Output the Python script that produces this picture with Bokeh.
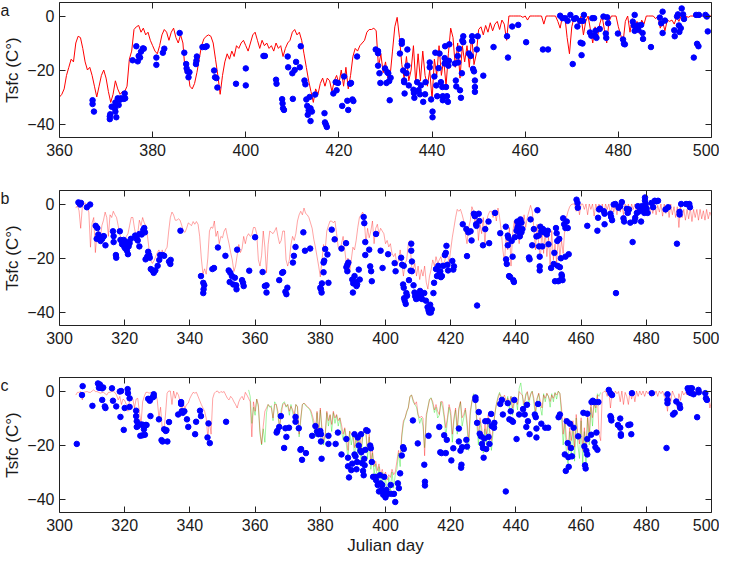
import numpy as np
from bokeh.plotting import figure
from bokeh.layouts import column, row
from bokeh.models import Range1d, LinearAxis, FixedTicker
from bokeh.core.properties import value
from bokeh.embed import file_html
from bokeh.resources import INLINE

FONT = "Liberation Sans"

# ---- panel a : modelled Tsfc (red, every half day from day 360) and observed (blue)
a_line_start = 360
a_line_temp = [
    -30, -29, -27, -22, -19, -16, -17, -10, -7.5, -8,
    -12, -17, -20, -19, -22, -26, -30, -26, -22, -20,
    -23, -28, -32, -29, -24, -27, -29, -28, -28, -26,
    -16, -13, -5, -4, -3.5, -6, -4.5, -7, -6, -9,
    -11, -13, -14, -11, -7, -5, -6, -9, -6, -4.5,
    -8, -10, -7, -10, -21, -19, -26, -27, -25, -21,
    -16, -11, -8.5, -7.5, -7, -7.5, -10, -16, -22, -29,
    -22, -17, -14, -16, -13, -15, -11, -12, -10, -9,
    -11, -13, -10, -7, -6, -9, -12, -9, -11, -10,
    -12, -11, -13, -10, -12, -11, -15, -12, -10, -9,
    -6, -5, -7, -6, -9, -14, -19, -24, -28, -32,
    -27, -29, -25, -23, -26, -23, -24, -28, -24, -22,
    -25, -20, -26, -19, -27, -22, -15, -12, -13, -11,
    -10, -9, -6, -5, -5, -4.5, -5.5, -19, -14, -21,
    -17, -23, -22, -13, -4, -0.5, -8, -18, -23, -15,
    -24, -20, -11, -25, -14, -24, -13, -22, -26, -20,
    -31, -16, -22, -11, -22, -16, -26, -14, -4.5, -8,
    -19, -10, -23, -11, -17, -11, -19, -7, -18, -14,
    -5, -4, -7, -3.5, -6, -2.5, -5.5, -3, -2, -5,
    -1.5, -3, -9, 0, 0, 0, 0, 0, 0, -0.5,
    0, -1.5, 0, 0, 0, 0, 0, 0, -3, 0,
    0, 0, 0, 0, -2, -4.5, 0, 0, -8, -14,
    -4, -0.5, 0, -3, 0, -7, -2, 0, -5, -10,
    -4, -8, -3, 0, -5, -10, -2, 0, 0, 0,
    -4, -7, -10, -2, 0, -6, -1, -5, -2, -6.5,
    -1.5, -3, 0, 0, 0, 0, -1, 0, -4.5, -2,
    -5.5, -1.5, -2, -1.5, -3, -0.5, -2, 0, -0.5, 0,
    -0.5, 0, 0, 0, 0, 0, 0, 0, 0, 0,
    0,
]
a_dot_day = [
    367.1, 367.1, 367.4, 370.8, 370.8, 370.9, 371.2, 371.7, 372.0, 372.0,
    372.2, 371.9, 372.5, 372.7, 373.0, 373.2, 373.8, 374.0, 374.1, 375.7,
    376.5, 376.8, 377.0, 377.3, 377.5, 377.9, 378.1, 380.8, 380.8, 382.2,
    382.5, 385.8, 386.8, 387.2, 387.3, 387.5, 387.7, 387.9, 389.3, 389.4,
    389.5, 390.7, 391.3, 391.6, 393.2, 393.4, 393.7, 393.9, 397.9, 400.0,
    400.0, 403.8, 404.1, 406.5, 406.6, 407.8, 407.9, 408.0, 408.2, 409.0,
    409.1, 410.0, 410.1, 410.5, 410.8, 411.6, 411.8, 412.6, 412.8, 413.0,
    413.2, 413.3, 413.5, 413.7, 413.9, 413.9, 414.2, 414.9, 416.9, 417.0,
    417.2, 417.4, 418.8, 419.3, 419.5, 419.8, 421.1, 420.7, 421.8, 422.0,
    422.4, 422.6, 422.9, 423.1, 423.9, 427.9, 428.4, 428.4, 428.4, 428.7,
    428.9, 429.9, 430.2, 430.4, 430.6, 430.8, 430.9, 431.1, 433.1, 433.5,
    433.5, 433.8, 434.0, 434.0, 434.1, 434.5, 434.7, 434.7, 435.0, 436.0,
    436.1, 436.2, 436.8, 437.1, 437.4, 437.6, 438.1, 438.5, 438.6, 439.5,
    439.5, 439.8, 440.1, 440.1, 440.5, 440.7, 440.9, 441.1, 441.4, 441.6,
    441.9, 442.2, 442.3, 442.3, 442.7, 442.7, 442.8, 443.0, 443.2, 443.4,
    443.5, 443.6, 443.7, 444.9, 445.1, 445.2, 445.5, 445.6, 445.8, 446.0,
    446.2, 446.4, 446.5, 446.7, 446.7, 447.9, 448.3, 448.6, 448.6, 448.8,
    449.0, 449.2, 449.2, 449.2, 449.6, 449.8, 451.0, 453.2, 456.1, 456.3,
    457.2, 458.5, 460.2, 463.8, 464.9, 467.5, 468.0, 468.6, 469.1, 469.7,
    470.2, 470.5, 470.9, 471.2, 471.8, 471.9, 472.1, 472.3, 472.4, 472.6,
    473.9, 474.2, 474.4, 474.8, 475.0, 475.1, 475.3, 476.0, 476.8, 477.3,
    477.4, 477.6, 477.8, 479.9, 481.0, 481.2, 481.4, 483.1, 483.3, 483.5,
    483.5, 484.2, 484.3, 484.9, 485.2, 485.3, 487.0, 488.9, 489.2, 489.5,
    489.5, 490.0, 492.0, 492.1, 492.6, 492.8, 493.0, 493.1, 493.4, 493.6,
    493.9, 494.1, 496.2, 496.7, 496.9, 497.2, 497.3, 498.7, 499.0, 499.2,
]
a_dot_temp = [
    -31.2, -32.6, -35.4, -37.2, -38.2, -36.4, -33.6, -33.8, -32.0, -35.4,
    -37.5, -34.2, -30.5, -33.0, -31.0, -30.5, -30.7, -28.7, -30.5, -16.4,
    -11.2, -16.8, -14.8, -15.4, -13.2, -12.0, -12.1, -15.4, -18.1, -13.6,
    -12.1, -6.3, -13.6, -17.8, -19.4, -20.6, -22.7, -20.8, -17.8, -16.6,
    -15.0, -11.5, -11.5, -11.2, -20.2, -22.7, -23.0, -26.5, -25.1, -25.7,
    -19.4, -14.8, -14.8, -23.6, -25.1, -30.8, -32.4, -34.2, -34.8, -15.0,
    -19.0, -21.2, -30.7, -20.0, -17.0, -19.0, -11.2, -23.9, -25.3, -30.9,
    -33.3, -36.6, -35.0, -30.0, -34.2, -38.9, -35.4, -29.1, -36.0, -39.4,
    -40.2, -41.1, -28.7, -24.5, -27.5, -24.8, -22.4, -33.3, -31.4, -34.8,
    -25.1, -24.8, -30.9, -31.5, -15.0, -12.4, -13.0, -13.8, -18.4, -21.2,
    -24.8, -19.4, -24.8, -20.8, -21.2, -24.1, -31.2, -22.9, -13.9, -9.3,
    -10.3, -20.2, -23.9, -24.5, -28.7, -21.2, -18.4, -12.4, -25.7, -27.3,
    -28.5, -30.3, -24.5, -27.5, -29.0, -25.7, -31.8, -29.0, -24.5, -17.2,
    -19.0, -30.9, -35.4, -37.5, -22.4, -13.6, -25.7, -29.7, -19.3, -13.9,
    -24.5, -26.3, -29.7, -31.2, -15.6, -17.6, -11.2, -26.3, -29.7, -31.8,
    -18.4, -16.6, -10.5, -17.6, -23.9, -26.1, -14.8, -17.2, -12.1, -27.5,
    -30.3, -21.2, -9.1, -9.7, -7.5, -13.9, -14.8, -7.5, -9.3, -19.6,
    -20.5, -23.9, -26.3, -28.1, -12.4, -7.5, -22.1, -11.5, -7.5, -15.4,
    -3.9, -3.3, -9.7, -12.4, -12.4, 0.1, -0.8, -0.8, -1.8, 0.4,
    -17.8, -1.1, -0.8, -3.9, -1.8, -9.9, -14.5, -10.2, -1.8, 0.4,
    -6.1, -7.3, -0.8, -0.8, -7.3, -5.5, -8.1, -4.8, -0.2, -6.5,
    -8.1, -0.5, -2.7, -6.5, -8.7, -10.3, -10.5, -2.1, -3.5, 0.4,
    -5.5, -3.5, -5.1, -3.3, -6.3, -8.5, -11.5, -0.6, -2.7, -6.3,
    1.6, -1.7, -5.3, -7.5, -0.2, 0.6, -3.5, -5.9, -4.5, 2.8,
    0.6, -1.1, -15.4, 0.4, -10.3, -11.2, 0.4, 0.4, -0.2, -5.7,
]

# ---- panel b
b_line_start = 305
b_line_temp = [
    -1.5, -0.5, -2.5, -9, -1, 0, 0.4, -1, -3, -16,
    -7, -5, -18, -11, -10, -13, -8, -6, -3, -5,
    -12, -4, -5, -2.7, -4, -5, -8, -11, -14, -13,
    -14, -12, -11, -8, -5, -5, -9, -12, -11, -6,
    -8, -5, -7, -8, -12, -17, -21, -22, -21, -19.5,
    -18, -17, -19, -17, -19, -17, -16, -10, -5, -3,
    -4, -6, -6, -5.5, -6, -8, -10, -10.5, -9, -7,
    -7.5, -8, -6.5, -7.5, -6.5, -7.5, -12, -20, -26, -24,
    -26, -20, -10, -8.5, -9, -6.3, -12, -10, -14.7, -12,
    -12.5, -10, -9, -12, -14.7, -18, -20.7, -25, -23, -19,
    -15, -18, -16.5, -12, -14.7, -12, -11, -12, -11.5, -8.7,
    -8.7, -11, -20.7, -23, -19, -10, -16, -25.5, -15, -10,
    -10.5, -11, -10, -8.7, -12, -14.7, -13.5, -10, -10, -20.7,
    -23, -20.7, -15, -12, -13.5, -11, -6.3, -4, -2.7, -4,
    -1.5, -3.5, -4, -5, -7, -9, -13, -16, -19.5, -23,
    -27, -21, -15, -17, -10, -8, -6.3, -6.3, -7, -6.3,
    -11, -16, -17, -14.7, -12, -17, -22, -20, -25.5, -20.7,
    -16, -17, -13.5, -8.7, -5, -4, -3, -6, -14.7, -9,
    -12.5, -10, -6.3, -14.7, -9, -7.5, -11, -9, -10, -11,
    -14.7, -13.5, -15.9, -14.7, -18.3, -19.5, -18.3, -23, -20.7, -17,
    -22, -26.7, -22, -20.7, -14.7, -13.5, -23, -24.3, -22, -26.7,
    -23, -28, -24.3, -26.7, -23, -29, -31.5, -26.7, -24.3, -20.7,
    -23, -19.5, -22, -20.7, -19.5, -23, -22, -19.5, -18.3, -22,
    -17, -12.3, -8.7, -5, -2, -2.7, -2, -3.9, -6.3, -11,
    -14.7, -8.7, -6.3, -1, -2.7, -7.5, -2.7, -13.5, -7.5, -11,
    -5, -14.7, -6.3, -4, -2.7, -2.7, -5, -2.7, -6.3, -1.5,
    -5, -9.9, -17, -21.9, -11, -17, -8.7, -23, -11, -6.3,
    -12.3, -7.5, -14.7, -5, -12.3, -4, -8.7, -5, -2.7, -0.5,
    -2.7, -8.7, -17, -7.5, -14.7, -20.7, -8.7, -18.3, -10, -19.5,
    -12.3, -23, -9.9, -20.7, -14.7, -22, -12.3, -19.5, -13.5, -18.3,
    -8.7, -5, -2.7, -1, -0.2, 0, 0, -2.7, 0, -4,
    0, 0, -2, 0, -4, 0, -2, 0, -4.5, 0,
    -2, 0, -3, 0, -4, 0, -2, 0, -4, 0,
    -3, 0, -4, 0, -3, 0, -4, 0, -3, 0,
    -4, 0, -2, 0, -3.5, 0, -2.5, 0, -4, 0,
    -3, 0, -4, -0.5, -3.5, 0, -4, -0.5, -3, 0,
    -4.5, 0, -3.5, -0.5, -5, 0, -4, -1, -5, -1,
    -8.7, -1, -5, -2, -6, -2, -5.5, -1.5, -6.5, -2,
    -5, -2, -6, -2, -5.5, -2.5, -6, -2, -5.5, -3,
    -4.5,
]
b_dot_day = [
    305.8, 306.3, 306.6, 308.4, 309.4, 311.1, 311.6, 311.4, 311.9, 312.1,
    312.6, 313.1, 313.4, 313.6, 314.1, 316.4, 316.6, 316.6, 317.3, 317.4,
    318.5, 318.7, 319.2, 319.7, 319.9, 320.2, 320.5, 320.7, 321.0, 321.2,
    321.5, 321.9, 323.2, 323.7, 324.0, 324.5, 324.5, 325.2, 325.7, 326.0,
    326.2, 326.4, 326.9, 327.2, 327.5, 327.7, 328.0, 328.5, 328.9, 329.4,
    330.1, 330.6, 330.9, 331.6, 332.1, 333.6, 334.0, 334.1, 337.1, 343.4,
    344.1, 344.2, 344.1, 344.4, 346.9, 347.4, 348.6, 350.9, 351.9, 352.2,
    352.4, 352.9, 353.3, 353.8, 354.2, 354.3, 354.5, 356.0, 356.3, 356.5,
    358.2, 360.0, 362.3, 363.0, 363.5, 363.5, 367.4, 368.3, 368.6, 369.3,
    369.6, 369.9, 371.6, 371.9, 372.4, 374.8, 375.3, 376.9, 380.0, 380.2,
    380.4, 380.5, 381.0, 381.0, 381.2, 381.5, 382.2, 382.5, 383.5, 384.4,
    386.5, 387.9, 388.0, 388.3, 388.3, 388.6, 389.8, 390.0, 390.1, 390.5,
    390.8, 391.1, 391.3, 391.8, 392.1, 393.3, 393.5, 393.8, 393.8, 395.0,
    395.3, 395.6, 395.8, 397.1, 398.5, 399.1, 400.8, 402.8, 403.1, 404.8,
    405.1, 405.6, 405.4, 405.6, 405.7, 405.9, 406.2, 406.4, 406.6, 407.2,
    407.7, 407.9, 407.9, 408.1, 408.1, 408.6, 408.9, 409.1, 409.4, 409.7,
    410.1, 410.6, 410.9, 411.2, 411.9, 412.4, 412.9, 413.2, 413.4, 413.7,
    413.9, 414.2, 414.7, 414.9, 415.5, 415.8, 416.2, 416.5, 416.8, 417.0,
    417.3, 417.7, 418.2, 418.5, 418.7, 419.0, 419.2, 420.5, 420.8, 421.0,
    423.7, 424.8, 425.0, 425.4, 426.1, 426.4, 427.1, 427.4, 427.8, 427.9,
    428.1, 428.6, 428.8, 429.9, 430.6, 431.6, 431.8, 433.6, 435.2, 436.9,
    437.0, 437.2, 437.5, 437.5, 437.7, 437.9, 438.2, 438.7, 439.0, 439.2,
    439.4, 439.7, 440.2, 440.4, 440.5, 440.7, 441.0, 441.2, 441.4, 441.7,
    441.7, 442.0, 444.0, 444.2, 444.5, 445.0, 445.5, 446.3, 446.6, 447.0,
    447.1, 447.3, 447.3, 447.3, 447.5, 447.8, 448.1, 448.3, 448.6, 449.1,
    449.5, 449.8, 450.0, 450.8, 451.6, 451.8, 452.0, 452.3, 452.5, 452.7,
    452.8, 453.0, 453.3, 453.5, 453.6, 453.8, 454.0, 454.1, 454.3, 454.5,
    454.8, 455.2, 455.2, 455.6, 455.9, 456.2, 458.6, 458.9, 459.0, 461.9,
    465.0, 465.2, 465.5, 465.8, 467.0, 467.2, 467.2, 469.0, 469.2, 469.5,
    470.0, 470.5, 470.7, 471.5, 472.0, 472.5, 473.0, 473.2, 474.0, 474.3,
    474.7, 475.1, 475.8, 476.4, 476.6, 477.1, 477.4, 477.9, 478.4, 478.6,
    479.1, 479.4, 479.6, 479.6, 479.8, 480.1, 480.4, 481.6, 482.1, 482.6,
    483.1, 483.6, 485.9, 486.7, 489.4, 490.2, 490.2, 490.7, 492.2, 493.2,
    493.4, 492.9,
]
b_dot_temp = [
    0.6, -0.2, 0.4, -1.2, -0.2, -8.1, -8.9, -12.9, -11.3, -12.9,
    -13.7, -12.9, -12.0, -11.9, -15.3, -10.1, -11.9, -14.1, -18.9, -19.9,
    -10.1, -13.3, -14.9, -13.3, -15.9, -16.5, -14.1, -17.3, -18.6, -15.7,
    -14.5, -12.9, -11.7, -12.9, -13.5, -15.7, -11.1, -11.3, -9.6, -8.9,
    -10.5, -20.5, -19.5, -17.7, -18.9, -19.9, -24.1, -24.6, -25.5, -24.6,
    -22.9, -20.7, -18.9, -18.9, -19.2, -21.3, -22.2, -20.7, -9.9, -26.7,
    -29.2, -31.6, -33.0, -30.1, -24.1, -23.7, -16.1, -19.2, -24.6, -28.9,
    -25.5, -26.7, -29.8, -27.3, -30.1, -31.6, -16.9, -28.2, -29.2, -30.4,
    -24.7, -12.3, -25.2, -30.4, -30.1, -32.8, -28.2, -25.5, -25.2, -32.5,
    -33.4, -31.0, -21.7, -19.2, -15.9, -10.5, -17.3, -16.5, -31.0, -31.6,
    -32.8, -29.4, -25.3, -21.7, -21.0, -16.7, -18.7, -29.2, -9.5, -13.1,
    -16.5, -14.5, -23.4, -22.5, -24.9, -21.7, -28.0, -32.8, -29.4, -26.7,
    -28.9, -30.4, -29.8, -24.3, -28.0, -4.8, -7.1, -14.1, -18.9, -16.9,
    -23.1, -24.9, -28.6, -11.1, -17.3, -23.7, -18.6, -21.9, -24.9, -19.9,
    -22.5, -22.9, -29.8, -31.0, -34.9, -35.8, -37.0, -33.0, -34.0, -28.2,
    -24.7, -14.7, -17.3, -24.9, -21.3, -30.1, -32.8, -34.2, -35.2, -33.4,
    -34.9, -32.2, -34.0, -35.2, -33.0, -35.8, -38.2, -39.4, -40.2, -37.3,
    -40.2, -39.0, -33.0, -29.2, -24.1, -26.7, -22.9, -25.9, -24.9, -27.1,
    -26.7, -22.9, -18.9, -18.1, -15.5, -22.5, -24.6, -21.1, -24.3, -23.1,
    -7.5, -9.3, -19.3, -10.5, -10.1, -13.5, -3.6, -4.5, -7.5, -8.1,
    -37.6, -3.6, -6.3, -15.3, -9.3, -6.5, -14.5, -3.3, -10.8, -8.4,
    -20.5, -22.2, -11.7, -15.3, -12.5, -26.7, -27.0, -13.7, -19.5, -28.2,
    -28.9, -12.3, -9.9, -6.5, -8.7, -8.1, -10.5, -12.0, -5.7, -6.9,
    -10.5, -9.3, -19.8, -20.5, -5.7, -15.3, -9.3, -12.0, -2.3, -11.7,
    -15.7, -19.5, -23.1, -24.6, -8.4, -10.1, -15.7, -9.3, -10.5, -10.5,
    -11.3, -9.9, -14.9, -23.7, -22.2, -18.1, -28.6, -8.9, -10.8, -13.7,
    -22.9, -28.6, -12.9, -23.4, -28.2, -20.1, -26.1, -26.7, -28.2, -5.3,
    -7.5, -8.9, -19.5, -6.5, -8.9, -18.6, 1.6, 0.4, -1.4, -8.1,
    -9.9, -5.1, -2.0, -1.7, -2.7, -3.6, -7.5, -3.6, -4.8, -6.0,
    -0.2, 0.0, -33.0, -1.4, -0.8, 0.7, -5.3, -6.5, -1.8, -3.3,
    -2.0, -6.9, -14.1, -6.3, -5.1, -3.3, -0.8, -2.7, -6.5, -0.8,
    -2.0, -3.3, 2.4, 1.2, 0.0, -1.7, -3.3, 0.4, -1.2, 1.2,
    1.0, 1.2, -2.0, -1.2, -14.7, -2.9, -3.9, 0.0, 0.0, 0.0,
    -1.2, -0.2,
]

# ---- panel c : two model runs (red from day 305, green from day 358) and observed
c_red_start = 305
c_red_temp = [
    -1.5, -0.5, -0.5, -0.2, -3.3, -0.5, -0.3, -0.2, -0.5, -0.5,
    0, 0.4, -0.2, -0.2, -0.5, -0.8, -0.6, -0.5, -1, -1.5,
    -0.5, -0.5, -0.2, -0.2, -0.5, -1.5, -3.3, -2, -5, -3,
    -3.5, -5, -7.5, -3, -2, -3, -6.3, -3, -2.7, -7.5,
    -12.4, -4, -2, -0.5, -0.5, -0.8, -0.5, -1.5, -0.5, -0.5,
    -3.5, -9.9, -6, -13.6, -14.8, -9, -0.8, 0, 0, -5,
    0, -2.7, -0.5, -1.5, -4, -7.5, -5, -6.3, -5, -4.5,
    -2.7, -1.5, -0.5, -0.8, -0.5, -2, -3.5, -5, -6.3, -7.5,
    -10, -17.2, -11, -16, -2.7, -0.8, -0.2, 0, -0.8, -0.2,
    -0.5, -0.2, -1.5, -2.7, -3.3, -2, -2.7, -4, -5, -6.3,
    -4, -2.7, -2, -3.3, -0.5, -1.5, -2.7, -4, -17, -4,
    -7.5, -3, -5, -14.8, -19.6, -13, -7.5, -6.3, -5, -5.7,
    -6.3, -10, -5, -5, -7.5, -13.6, -8.7, -5, -4.5, -5.7,
    -5, -7.5, -5.7, -6.9, -8.7, -5, -5.7, -16, -10, -5,
    -4.5, -5, -5.7, -6.3, -6.9, -8.7, -11, -14.8, -7.5, -14.8,
    -6.3, -13.6, -18.7, -16, -7.5, -11, -8.7, -12.4, -7.5, -10,
    -8.7, -11, -9.9, -12.4, -16, -13.6, -17.2, -22, -14.8, -16,
    -15.4, -21, -16, -19.6, -15.4, -22, -16, -13.6, -15, -22,
    -16, -26, -22, -28, -26, -29.5, -27, -31, -29, -32,
    -30, -33, -31, -32, -29, -31, -30, -26, -22, -25,
    -16, -11, -10, -7.5, -6.3, -2, -1.5, -3.3, -5, -4,
    -8.7, -10, -9.3, -10, -24, -8.7, -6.3, -3.3, -2.7, -4,
    -7, -5, -7.5, -8.7, -3.9, -4, -8.7, -13.6, -9.9, -5,
    -7.5, -16, -9.9, -6.3, -13.6, -6.3, -3.9, -9.9, -8.7, -6.3,
    -11, -18.4, -7.5, -3.9, -1.5, -2, -9.9, -16, -9.9, -13.6,
    -19.6, -12.4, -16, -8.7, -14.8, -18.4, -13.6, -8.7, -5, -2.7,
    -1, -2, -2.7, -1.5, -3.9, -2.7, -5, -2, -6.3, -3.9,
    -2.7, -5, -0.2, -1, -1.5, -5, -2, -0.2, -3.3, -1.5,
    -0.2, -2.7, -7.5, -2.7, -0.8, -3.9, -6.3, -1.5, -2.7, -0.8,
    -2, -3.9, -1.5, -2.7, -0.8, -1.5, -0.2, -0.8, -6.3, -16,
    -9.9, -17.2, -22, -13.6, -18.4, -11, -20.8, -8.7, -16, -19.6,
    -9.9, -22, -13.6, -20.8, -8.7, -16, -5, -9.9, -3.9, -6.3,
    -1.5, -16, -18.4, -0.8, -0.2, 0, -2, 0, -6.3, -0.5,
    -2, 0, -1, -0.2, -4, 0, -5, -0.5, -2, -5,
    0, -3, -0.5, -4, 0, -2, 0, -1.5, 0, -2,
    0, -1, 0, -2, 0, -1.5, 0, -2, 0, -1,
    0, -2, -3, -7.5, -1, -4, 0, -1.5, -3, -6.3,
    -1, -3.5, 0, -1.5, -0.5, -1.5, 0, -1, 0, -0.5,
    0, -1.5, 0, -0.5, 0, -1, 0, -0.5, -2, -6.3,
    -4,
]
c_green_start = 358
c_green_temp = [
    0.4, -2, -12, -6, -9, -3, -6, -16, -20, -14,
    -19, -8, -5, -6, -5.5, -11, -4, -5, -9, -14,
    -7, -4.5, -4, -6, -5, -9, -5, -8, -10, -5,
    -6, -17, -11, -5, -4.5, -5.5, -6, -6.5, -7.5, -10,
    -13, -17, -8, -17, -7, -15, -20, -17, -8, -13,
    -9, -15, -8, -12, -9, -13, -10, -15, -18, -14,
    -20, -25, -15, -20, -16, -25, -17, -23, -16, -27,
    -17, -15, -16, -25, -17, -29, -23, -31, -27, -33,
    -28, -35, -30, -38, -31, -40, -32, -37, -30, -36,
    -31, -29, -23, -28, -17, -12, -10, -8, -6, -2,
    -1.5, -4, -5, -6, -9, -12, -10, -13, -21, -10,
    -6, -3, -2.5, -5, -8, -6, -10, -9, -4, -6,
    -10, -17, -11, -6, -9, -19, -11, -7, -16, -7,
    -4, -13, -10, -7, -13, -22, -9, -4, -1, -2,
    -12, -20, -11, -17, -23, -14, -20, -10, -18, -22,
    -15, -9, -5, -2, -0.5, -3, -2, -3, -5, -2,
    -7, -2, -9, -4, -3, -7, 1, 3, -2, -7,
    -1, -0.5, -5, -1, 0, -4, -10, -3, -1, -6,
    -9, -1, -4, -1, -2, -6, -1, -4, -0.5, -3,
    0, -1, -9, -20, -12, -23, -27, -15, -24, -13,
    -26, -10, -20, -25, -11, -27, -15, -28, -10, -20,
    -6, -13, -4, -8, -1, -2, -0.5,
]
c_dot_day = [
    305.3, 306.9, 307.1, 310.1, 311.8, 312.1, 312.4, 312.6, 313.1, 313.4,
    313.1, 313.9, 314.1, 316.1, 316.4, 317.4, 318.5, 318.9, 318.7, 319.7,
    320.0, 320.9, 321.0, 321.5, 321.5, 323.5, 323.5, 323.7, 324.0, 323.7,
    324.5, 324.8, 325.2, 325.5, 325.7, 325.9, 326.2, 326.4, 326.7, 327.2,
    327.7, 327.9, 328.5, 328.9, 328.9, 330.5, 331.3, 331.6, 332.1, 332.6,
    332.8, 333.1, 333.6, 336.4, 337.3, 337.3, 337.5, 337.8, 338.3, 339.1,
    339.5, 341.6, 341.9, 343.1, 343.4, 345.4, 345.7, 346.1, 351.1, 366.6,
    366.8, 367.4, 367.9, 368.9, 369.3, 369.6, 370.4, 372.4, 372.4, 373.4,
    373.9, 374.4, 374.1, 375.6, 377.5, 378.5, 379.0, 379.4, 380.0, 380.2,
    380.2, 380.4, 382.5, 382.5, 384.7, 385.4, 386.5, 388.0, 388.5, 388.5,
    388.8, 389.5, 389.8, 390.5, 390.5, 390.8, 391.1, 391.3, 391.5, 391.8,
    392.3, 392.5, 392.6, 392.8, 393.1, 393.3, 393.5, 393.6, 393.8, 394.1,
    394.5, 395.3, 395.5, 395.8, 396.2, 396.9, 397.1, 397.6, 398.0, 398.3,
    398.5, 398.8, 399.0, 399.3, 399.6, 399.8, 400.0, 400.3, 400.8, 401.6,
    401.8, 402.6, 403.0, 403.8, 404.1, 404.5, 405.0, 405.4, 405.6, 408.4,
    409.9, 411.9, 412.1, 412.1, 413.2, 416.5, 416.8, 417.2, 418.0, 418.5,
    418.8, 420.2, 420.8, 422.5, 422.5, 423.0, 423.2, 423.5, 423.3, 424.8,
    425.0, 427.6, 427.6, 428.1, 428.6, 428.9, 429.3, 429.6, 429.9, 430.1,
    430.3, 430.6, 430.9, 431.4, 431.6, 431.9, 432.4, 432.6, 433.1, 433.3,
    433.4, 435.2, 435.7, 436.0, 436.9, 437.5, 438.0, 438.4, 438.7, 439.1,
    439.5, 440.2, 441.0, 442.2, 442.7, 443.4, 443.2, 443.7, 444.2, 445.8,
    446.1, 446.3, 446.3, 446.8, 447.8, 449.0, 449.9, 453.1, 453.5, 455.0,
    455.3, 455.6, 455.9, 456.1, 456.2, 456.6, 456.9, 457.2, 457.7, 459.1,
    460.7, 461.0, 461.2, 461.4, 461.6, 461.9, 461.9, 461.9, 463.1, 463.2,
    463.6, 464.1, 464.2, 464.4, 464.7, 465.0, 465.3, 468.5, 469.0, 469.5,
    469.0, 469.2, 469.3, 471.3, 472.0, 472.0, 472.2, 472.2, 474.5, 475.1,
    475.4, 475.6, 481.7, 486.2, 486.5, 486.5, 486.5, 488.2, 488.7, 489.2,
    490.2, 490.4, 492.7, 493.0, 493.2, 493.5, 493.7, 494.0, 494.5, 495.6,
    496.0, 496.1, 498.1, 498.3, 498.6,
]
c_dot_temp = [
    -19.6, -1.5, 1.8, -5.5, 2.8, 1.2, 2.4, 1.2, 1.0, 1.3,
    -3.3, -5.7, -6.3, 1.0, -3.6, -5.7, -0.2, 0.0, -9.6, -14.4,
    -6.3, 0.7, -0.8, -2.7, -5.9, -7.3, -9.3, -11.2, -13.0, -13.3,
    -12.4, -16.6, -12.4, -16.4, -12.6, -14.2, -16.2, -12.6, -12.6, -2.9,
    -3.6, -9.3, -2.4, -1.2, -2.1, -10.5, -18.2, -18.7, -14.2, -14.8,
    -14.5, -18.7, -11.5, -8.7, -4.1, -4.8, -7.5, -8.1, -7.5, -10.5,
    -13.3, -16.0, -11.4, -7.3, -9.3, -17.2, -12.0, -19.3, -11.4, -15.4,
    -14.8, -13.3, -9.3, -21.1, -13.8, -17.0, -13.6, -9.6, -11.4, -13.8,
    -21.8, -25.5, -21.5, -23.0, -16.6, -13.0, -15.0, -16.0, -14.8, -16.0,
    -18.7, -25.1, -16.6, -19.6, -19.6, -15.4, -23.5, -17.8, -24.7, -27.9,
    -32.0, -29.3, -26.9, -16.0, -23.5, -24.2, -29.0, -26.3, -17.2, -20.2,
    -22.1, -16.0, -22.7, -26.7, -29.6, -31.2, -25.1, -27.5, -21.8, -14.5,
    -14.8, -20.2, -21.2, -26.3, -31.8, -31.8, -33.0, -34.8, -37.2, -31.2,
    -34.2, -36.6, -34.8, -38.4, -31.8, -37.2, -39.4, -36.6, -38.1, -34.8,
    -38.1, -38.1, -41.1, -34.2, -36.0, -30.5, -23.9, -20.8, -21.5, -10.9,
    -19.4, -27.3, -33.6, -35.0, -16.6, -13.3, -22.7, -23.0, -16.4, -23.0,
    -18.1, -25.7, -21.2, -13.9, -18.7, -22.1, -28.4, -20.8, -27.3, -18.1,
    -20.6, -2.4, -3.3, -11.8, -7.8, -15.8, -16.8, -19.6, -21.1, -24.7,
    -17.6, -11.2, -21.5, -11.2, -17.0, -19.6, -8.5, -13.0, -12.6, -13.6,
    -11.8, -4.8, -3.3, -8.7, -37.2, -4.5, -10.5, -7.5, -10.9, -11.4,
    -3.3, -17.8, -8.7, -6.7, -8.7, -5.1, -13.3, -11.2, -16.0, -8.7,
    -9.7, -13.9, -17.2, -4.8, -12.1, -13.6, -13.6, -9.7, -8.7, -23.5,
    -29.6, -11.2, -19.3, -24.5, -28.1, -12.1, -21.1, -24.2, -13.6, -16.8,
    -8.1, -20.5, -27.5, -28.7, -22.1, -8.4, -17.8, -23.5, -16.2, -4.1,
    -3.6, -19.0, -4.1, -20.8, -15.4, -21.8, -4.1, 0.4, -0.8, -1.5,
    -9.3, -9.9, -10.9, -12.6, -10.2, -13.6, -16.0, -16.6, -12.6, -12.4,
    -16.0, -0.8, -0.8, -21.1, -1.2, -3.3, -4.5, -8.7, -8.1, -3.9,
    -5.1, -6.3, 1.0, 0.1, -0.5, 1.0, -0.8, 1.0, -1.2, -9.7,
    0.4, -0.5, -0.8, -2.7, -3.3,
]

panel_letters = ["a", "b", "c"]

STRIP = 12  # width of the strip carrying the panel letter


def half_days(start, temps):
    # model output is stored every half day
    return start + 0.5 * np.arange(len(temps))


def letter_column(letter, height, top, bottom):
    p = figure(width=STRIP, height=height, x_range=Range1d(0, 1), y_range=Range1d(-45, 5),
               x_axis_type=None, y_axis_type=None, output_backend="svg", toolbar_location=None,
               min_border_left=0, min_border_right=0, min_border_top=top, min_border_bottom=bottom)
    p.grid.visible = False
    p.outline_line_color = None
    p.border_fill_color = None
    p.background_fill_color = None
    p.text(x=[0], y=[2.0], text=[letter], text_font=value(FONT), text_font_size="16px",
           text_baseline="middle", text_align="left", text_color="#1a1a1a")
    return p


def panel(x0, height, top, bottom, xlabel=None):
    xt = list(range(x0, 501, 20))
    yt = [-40, -20, 0]
    # the panel slides back over the letter strip so the letter sits beside the axis label
    p = figure(width=719, height=height, x_range=Range1d(x0, 500), y_range=Range1d(-45, 5),
               output_backend="svg", toolbar_location=None,
               min_border_left=52, min_border_right=8,
               min_border_top=top, min_border_bottom=bottom,
               margin=(0, 0, 0, -STRIP))
    p.grid.visible = False
    p.outline_line_color = None
    p.border_fill_color = None
    p.background_fill_color = "white"
    p.xaxis.ticker = FixedTicker(ticks=xt)
    p.yaxis.ticker = FixedTicker(ticks=yt)

    # box ticks on the top and right: minor ticks only, so no labels are drawn there
    top_ax = LinearAxis(ticker=FixedTicker(ticks=[], minor_ticks=xt), major_label_standoff=0)
    right_ax = LinearAxis(ticker=FixedTicker(ticks=[], minor_ticks=yt), major_label_standoff=0)
    p.add_layout(top_ax, "above")
    p.add_layout(right_ax, "right")
    for ax in p.axis:
        ax.axis_line_color = "#222222"
        ax.axis_line_width = 1
        ax.major_tick_in = 6
        ax.major_tick_out = 0
        ax.major_tick_line_color = "#222222"
        ax.minor_tick_line_color = None
    for ax in (top_ax, right_ax):
        ax.minor_tick_line_color = "#222222"
        ax.minor_tick_in = 6
        ax.minor_tick_out = 0

    left = p.left[0]
    left.major_label_overrides = {-40: "\u221240", -20: "\u221220", 0: "0"}
    left.axis_label = "Tsfc (C\u00b0)"
    left.major_label_standoff = 5
    left.axis_label_standoff = 2
    bottom_ax = p.below[0]
    bottom_ax.major_label_standoff = 6
    for ax in (left, bottom_ax):
        ax.major_label_text_font = FONT
        ax.major_label_text_font_size = "16px"
        ax.major_label_text_color = "#1a1a1a"
        ax.axis_label_text_font = FONT
        ax.axis_label_text_font_size = "17px"
        ax.axis_label_text_font_style = "normal"
        ax.axis_label_text_color = "#1a1a1a"
    if xlabel:
        bottom_ax.axis_label = xlabel
        bottom_ax.axis_label_standoff = 2
    return p


pa = panel(360, 189, 2, 52)
pa.line(half_days(a_line_start, a_line_temp), a_line_temp, line_color="red", line_width=1)
pa.scatter(a_dot_day, a_dot_temp, marker="circle", size=5.5, fill_color="blue", line_color="blue")

pb = panel(300, 187, 1, 51)
pb.line(half_days(b_line_start, b_line_temp), b_line_temp, line_color="red", line_width=0.8, line_alpha=0.45)
pb.scatter(b_dot_day, b_dot_temp, marker="circle", size=5.5, fill_color="blue", line_color="blue")

pc = panel(300, 182, 1, 46, xlabel="Julian day")
pc.line(half_days(c_green_start, c_green_temp), c_green_temp, line_color="#00e000", line_width=0.8, line_alpha=0.45)
pc.line(half_days(c_red_start, c_red_temp), c_red_temp, line_color="red", line_width=0.8, line_alpha=0.45)
pc.scatter(c_dot_day, c_dot_temp, marker="circle", size=5.5, fill_color="blue", line_color="blue")

la = letter_column(panel_letters[0], 189, 2, 52)
lb = letter_column(panel_letters[1], 187, 1, 51)
lc = letter_column(panel_letters[2], 182, 1, 46)

layout = column(row(la, pa, spacing=0), row(lb, pb, spacing=0), row(lc, pc, spacing=0), spacing=0)
open("out.html", "w").write(file_html(layout, INLINE))
